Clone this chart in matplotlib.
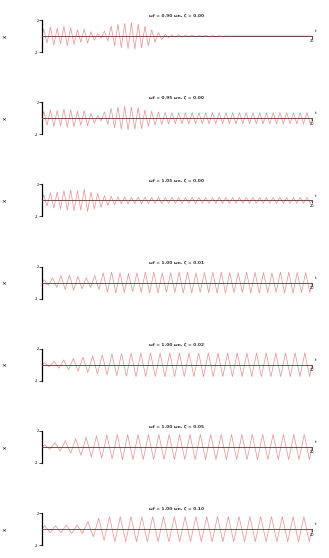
import numpy as np
import matplotlib
matplotlib.use("Agg")
import matplotlib.pyplot as plt

# Panel titles (tiny, approximated)
titles = [
    "ωf = 0.90 ωn, ζ = 0.00",
    "ωf = 0.95 ωn, ζ = 0.00",
    "ωf = 1.05 ωn, ζ = 0.00",
    "ωf = 1.00 ωn, ζ = 0.01",
    "ωf = 1.00 ωn, ζ = 0.02",
    "ωf = 1.00 ωn, ζ = 0.05",
    "ωf = 1.00 ωn, ζ = 0.10",
]
ylabels = ["x", "x", "x", "x", "x", "x", "x"]
t_end = 20.0

# Peak amplitude of each oscillation cycle, per panel
peaks_1 = [0.5, 0.65, 0.55, 0.7, 0.6, 0.45, 0.5, 0.3, 0.15, 0.35, 0.7, 0.85, 0.9, 0.95,
           0.85, 0.7, 0.45, 0.25, 0.12, 0.08, 0.1, 0.06, 0.08, 0.05, 0.06, 0.03, 0.02,
           0.01, 0, 0, 0, 0, 0, 0, 0, 0, 0, 0, 0, 0]
peaks_2 = [0.5, 0.6, 0.55, 0.65, 0.6, 0.5, 0.55, 0.35, 0.2, 0.45, 0.7, 0.8, 0.85, 0.8,
           0.75, 0.6, 0.5, 0.45, 0.42, 0.4, 0.4, 0.4, 0.4, 0.4, 0.4, 0.4, 0.4, 0.4, 0.4,
           0.4, 0.4, 0.4, 0.4, 0.4, 0.4, 0.4, 0.4, 0.4, 0.4, 0.4]
peaks_3 = [0.4, 0.55, 0.6, 0.7, 0.75, 0.7, 0.8, 0.6, 0.5, 0.35, 0.3, 0.25, 0.25, 0.22,
           0.25, 0.22, 0.22, 0.22, 0.2, 0.22, 0.2, 0.2, 0.22, 0.2, 0.2, 0.2, 0.22, 0.2,
           0.2, 0.2, 0.2, 0.2, 0.2, 0.2, 0.2, 0.2, 0.2, 0.2, 0.2, 0.2]
peaks_4 = [0.2, 0.35, 0.5, 0.55, 0.45, 0.35, 0.5, 0.7, 0.75, 0.7, 0.65, 0.7, 0.75, 0.75,
           0.7, 0.7, 0.75, 0.75, 0.7, 0.72, 0.75, 0.75, 0.72, 0.7, 0.75, 0.75, 0.72,
           0.7, 0.75, 0.75, 0.72, 0.72]
peaks_5 = [0.15, 0.25, 0.35, 0.45, 0.55, 0.65, 0.72, 0.78, 0.82, 0.85, 0.85, 0.85, 0.85,
           0.85, 0.85, 0.85, 0.85, 0.85, 0.85, 0.85, 0.85, 0.85, 0.85, 0.85, 0.85, 0.85,
           0.85, 0.85]
peaks_6 = [0.15, 0.3, 0.45, 0.6, 0.72, 0.8, 0.86, 0.9, 0.9, 0.9, 0.9, 0.9, 0.9, 0.9, 0.9,
           0.9, 0.9, 0.9, 0.9, 0.9, 0.9, 0.9, 0.9, 0.9, 0.9, 0.9]
peaks_7 = [0.25, 0.25, 0.3, 0.3, 0.55, 0.8, 0.9, 0.9, 0.9, 0.9, 0.9, 0.9, 0.9, 0.9, 0.9,
           0.9, 0.9, 0.9, 0.9, 0.9, 0.9, 0.9, 0.9, 0.9, 0.9]
all_peaks = [peaks_1, peaks_2, peaks_3, peaks_4, peaks_5, peaks_6, peaks_7]

W, H = 329, 558
fig = plt.figure(figsize=(W / 100, H / 100), dpi=100)
fig.patch.set_facecolor("white")

left = 42 / W
width = (312 - 42) / W
ax_h = 32 / H
for k, peaks in enumerate(all_peaks):
    center = 36 + 82.2 * k
    bottom = 1 - (center + 16) / H
    ax = fig.add_axes([left, bottom, width, ax_h])
    n = len(peaks)
    # extrema: +a, -a alternating, at quarter/three-quarter cycle positions
    tx = [0.0]
    yv = [0.0]
    for i, a in enumerate(peaks):
        tx.append((i + 0.25) * t_end / n)
        yv.append(a)
        tx.append((i + 0.75) * t_end / n)
        yv.append(-a)
    tx.append(t_end)
    yv.append(0.0)
    ax.plot(tx, yv, color="#e79090", lw=0.5, zorder=1)
    ax.set_xlim(0, t_end)
    ax.set_ylim(-1.15, 1.15)
    for s in ["top", "right"]:
        ax.spines[s].set_visible(False)
    ax.spines["bottom"].set_position("zero")
    ax.spines["bottom"].set_linewidth(0.6)
    ax.spines["bottom"].set_color("#6a3030")
    ax.spines["left"].set_linewidth(0.9)
    ax.set_yticks([-1.15, 1.15])
    ax.set_yticklabels(["-2", "2"])
    ax.set_xticks([t_end])
    ax.set_xticklabels(["20"])
    ax.tick_params(labelsize=2.5, length=2, width=0.5, pad=0.5)
    ax.set_title(titles[k], fontsize=3.2, pad=2, fontweight="bold", color="#333333")
    ax.text(1.01, 0.62, "t", transform=ax.transAxes, fontsize=3)
    fig.text(5 / W, 1 - center / H, ylabels[k], fontsize=4, rotation=90,
             ha="center", va="center")
    ax.patch.set_alpha(0)

fig.savefig("out.png", dpi=100)
